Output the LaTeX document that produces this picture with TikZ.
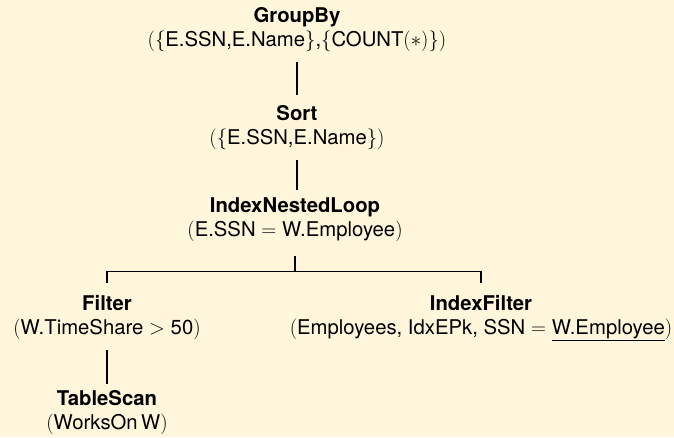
\documentclass[tikz,border=0pt]{standalone}
\usepackage{fontspec}
\setsansfont{TeX Gyre Heros}
\definecolor{bgcream}{RGB}{255,246,220}
\begin{document}
\begin{tikzpicture}[x=1pt,y=-1pt,
  op/.style={align=center,font=\sffamily\fontsize{20.3}{24}\selectfont,inner sep=0pt,outer sep=0pt},
  link/.style={draw=black,line width=1.2pt}]
\fill[bgcream] (0,0) rectangle (674,437);
\useasboundingbox (0,0) rectangle (674,437);
\node[op] (g) at (297,30) {\textbf{GroupBy}\\$(\{$E.SSN,E.Name$\}$,$\{$COUNT$(*)\})$};
\node[op] (s) at (297,128) {\textbf{Sort}\\$(\{$E.SSN,E.Name$\})$};
\node[op] (n) at (295,220) {\textbf{IndexNestedLoop}\\$($E.SSN${}={}$W.Employee$)$};
\node[op] (f) at (107,318) {\textbf{Filter}\\$($W.TimeShare${}>{}$50$)$};
\node[op] (i) at (481,318) {\textbf{IndexFilter}\\$($Employees, IdxEPk, SSN${}={}$\underline{W.Employee}$)$};
\node[op] (t) at (107,413) {\textbf{TableScan}\\$($WorksOn\,W$)$};
\coordinate (j) at (295,271.5);
\draw[link] (g.south |- 0,62) -- (g.south |- 0,95);
\draw[link] (s.south |- 0,160) -- (s.south |- 0,190);
\draw[link] (n.south |- 0,256) -- (j);
\draw[link] (f.north |- 0,283) -- (f.north |- j) -- (i.north |- j) -- (i.north |- 0,283);
\draw[link] (t.north |- 0,350) -- (t.north |- 0,384);
\end{tikzpicture}
\end{document}
